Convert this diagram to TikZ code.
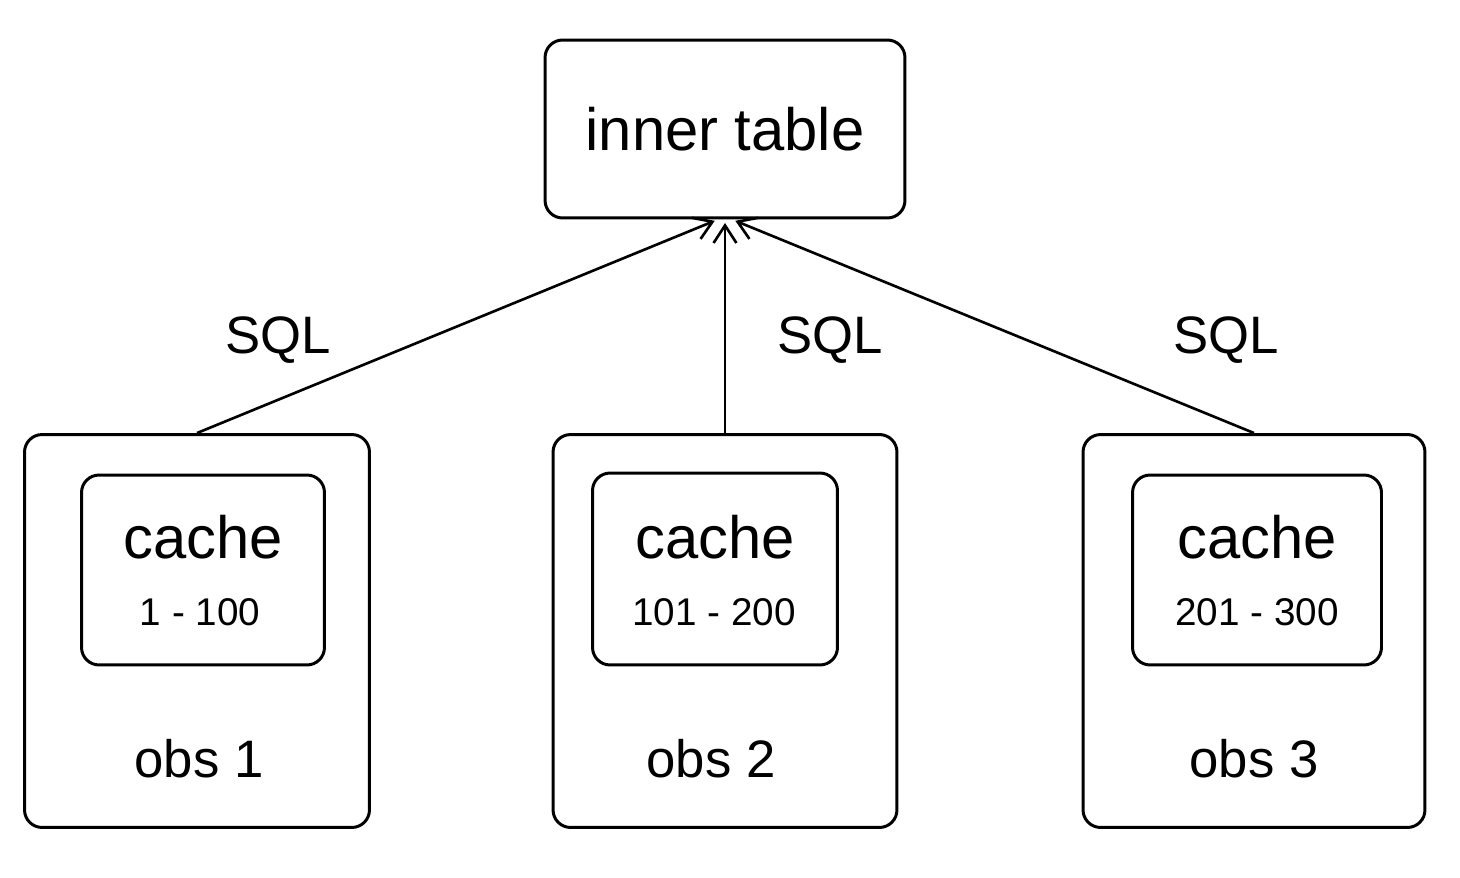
\documentclass[tikz,border=0pt]{standalone}
\usepackage{fontspec}
\setmainfont{Liberation Sans}
\usetikzlibrary{arrows.meta, positioning}

\tikzset{
  box/.style={draw, line width=1.7pt, rounded corners=10pt},
  big/.style={font=\fontsize{34}{40}\selectfont},
  mid/.style={font=\fontsize{30}{36}\selectfont},
  small/.style={font=\fontsize{22}{26}\selectfont},
  conn/.style={line width=1.5pt, shorten >=2pt, -{Straight Barb[length=10pt,width=13pt,line width=1.5pt]}}
}

\begin{document}
\begin{tikzpicture}[x=0.02cm, y=-0.02cm]
\useasboundingbox (0,0) rectangle (1460,878);
% top table
\node[box, big, minimum width=7.2cm, minimum height=3.56cm] (tbl) at (725,129) {inner table};
% observers
\node[box, minimum width=6.9cm, minimum height=7.86cm] (obsA) at (197,631) {};
\node[box, minimum width=6.88cm, minimum height=7.86cm] (obsB) at (725,631) {};
\node[box, minimum width=6.84cm, minimum height=7.86cm] (obsC) at (1254,631) {};
% caches
\node[box, minimum width=4.86cm, minimum height=3.8cm] (cacheA) at (203,570) {};
\node[box, minimum width=4.9cm, minimum height=3.84cm] (cacheB) at (715,569) {};
\node[box, minimum width=4.98cm, minimum height=3.8cm] (cacheC) at (1257,570) {};
    \node[big] (cA) at (203,537) {cache};
    \node[big] (cB) at (715,537) {cache};
    \node[big] (cC) at (1257,537) {cache};
    \node[small] (rA) at (200,612) {1 - 100};
    \node[small] (rB) at (714,612) {101 - 200};
    \node[small] (rC) at (1257,612) {201 - 300};
    \node[mid] (nA) at (199,759) {obs 1};
    \node[mid] (nB) at (711,759) {obs 2};
    \node[mid] (nC) at (1254,759) {obs 3};
% SQL links
\draw[conn] (obsA.north) -- ([xshift=-4]tbl.south);
\draw[conn] (obsB.north) -- (tbl.south);
\draw[conn] (obsC.north) -- ([xshift=4]tbl.south);
    \node[mid] (sA) at (278,340) {SQL};
    \node[mid] (sB) at (830,340) {SQL};
    \node[mid] (sC) at (1226,340) {SQL};
\end{tikzpicture}
\end{document}
